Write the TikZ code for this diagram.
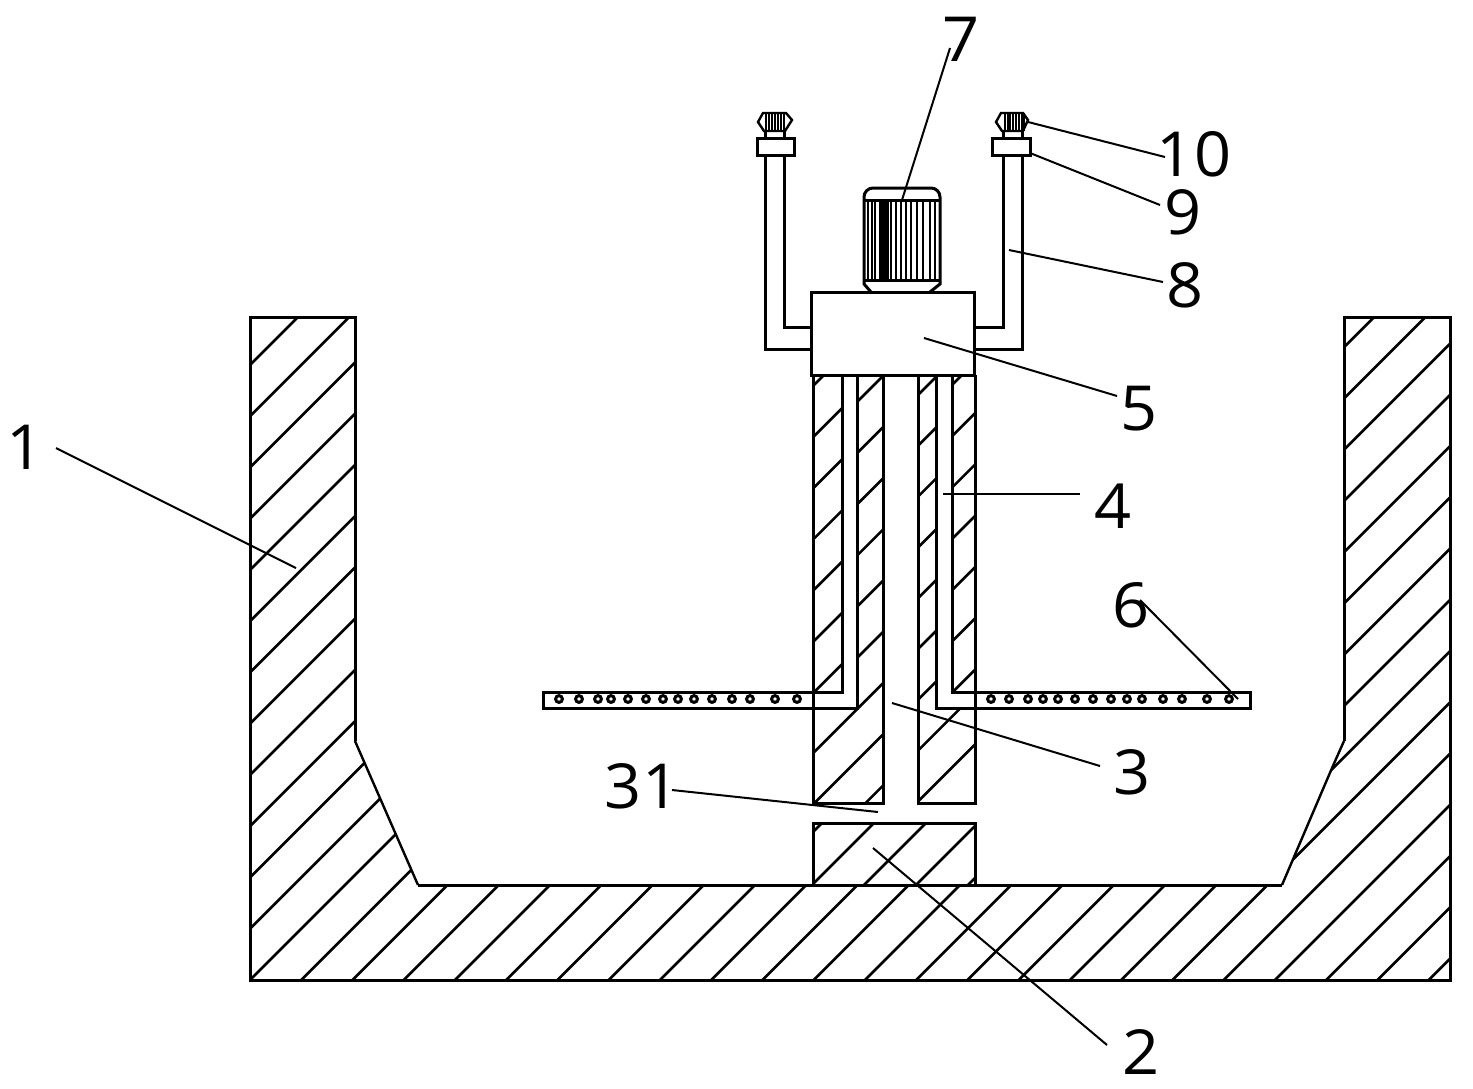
\documentclass[tikz,border=0pt]{standalone}
\usepackage{fontspec}
\setsansfont{Open Sans}
\tikzset{
  outline/.style={line width=1.5pt,line join=miter},
  thinline/.style={line width=1.2pt},
  hatchline/.style={line width=1.3pt},
  leader/.style={line width=1pt},
  finline/.style={line width=1.4pt},
  holemark/.style={circle,draw,line width=1.5pt,minimum size=3.4pt,inner sep=0pt},
  lab/.style={inner sep=0pt,font=\sffamily\fontsize{27}{27}\selectfont,yscale=1.15,xscale=1.2,text=black}
}
\newcommand{\hatchin}[5]{% path, c0, period, k-from, k-to
  \begin{scope}
    \clip #1;
    \foreach \k in {#4,...,#5}{
      \pgfmathsetmacro{\cc}{#2+#3*\k}
      \draw[hatchline] (0,\cc) -- (\cc,0);
    }
  \end{scope}
}
\begin{document}
\begin{tikzpicture}[x=0.5pt,y=-0.5pt]
\useasboundingbox (0,0) rectangle (1473,1088);
\fill[white] (0,0) rectangle (1473,1088);
% hatches
\hatchin{(250,317)--(355,317)--(355,741)--(418,885)--(1282,885)--(1344,741)--(1344,317)--(1450,317)--(1450,980)--(250,980)--cycle}{1230}{51.25}{-12}{23}
\hatchin{(813,823) rectangle (975,885)}{1697}{52}{-1}{3}
\hatchin{(813,375) rectangle (842,692)}{1199}{51.2}{0}{6}
\hatchin{(857,375)--(883,375)--(883,803)--(813,803)--(813,708)--(857,708)--cycle}{1259}{51.2}{0}{8}
\hatchin{(918,375)--(936,375)--(936,708)--(975,708)--(975,803)--(918,803)--cycle}{1313}{50.8}{0}{8}
\hatchin{(952,375) rectangle (975,692)}{1337}{51.3}{0}{6}
% vessel
\draw[outline] (355,741)--(355,317)--(250,317)--(250,980)--(1450,980)--(1450,317)--(1344,317)--(1344,741);
\draw[thinline] (355,741)--(418,885);
\draw[outline] (418,885)--(1282,885);
\draw[thinline] (1282,885)--(1332,768)--(1344,741);
% block 2
\draw[outline] (813,885)--(813,823)--(975,823)--(975,885);
% tubes
\draw[outline] (813,375)--(813,803)--(883,803)--(883,375);
\draw[outline] (918,375)--(918,803)--(975,803)--(975,375);
% horizontal pipes
\draw[outline] (857,375)--(857,708)--(543,708)--(543,692)--(842,692)--(842,375);
\draw[outline] (936,375)--(936,708)--(1250,708)--(1250,692)--(952,692)--(952,375);
% holes
\foreach \x in {559,579,598,611,628,646,663,678,694,712,732,750,775,797,991,1009,1028,1043,1058,1075,1093,1111,1127,1142,1163,1182,1207,1229}
  \node[holemark] at (\x,699) {};
% head box
\draw[outline] (811,292) rectangle (974,375);
% motor
\draw[outline] (864,200)--(864,197) arc[start angle=180,end angle=270,radius=9]--(931,188) arc[start angle=270,end angle=360,radius=9]--(940,200);
\draw[outline] (864,200)--(940,200);
\draw[outline] (864,280)--(940,280);
\draw[outline] (864,200)--(864,284)--(871,292);
\draw[outline] (940,200)--(940,284)--(930,292);
\foreach \x in {868,872,875,880,882,884,886,888,891,896,901,906,911,917,923,930,935}
  \draw[finline] (\x,200)--(\x,280);
% side pipes
\draw[outline] (811,349)--(765,349)--(765,155);
\draw[outline] (811,327)--(784,327)--(784,155);
\draw[outline] (974,349)--(1022,349)--(1022,155);
\draw[outline] (974,327)--(1003,327)--(1003,155);
\draw[outline] (757,138) rectangle (794,155);
\draw[outline] (992,138) rectangle (1030,155);
% nozzles
\draw[outline] (765,138)--(765,132) (784,138)--(784,132);
\draw[outline] (1003,138)--(1003,132) (1022,138)--(1022,132);
\draw[thinline] (758,122)--(763,113)--(786,113)--(792,120)--(785,131)--(764,131)--cycle;
\draw[thinline] (996,122)--(1001,113)--(1023,113)--(1028,120)--(1023,131)--(1002,131)--cycle;
\foreach \x in {766,769,772,775,778,781,784}
  \draw[finline] (\x,113)--(\x,131);
\foreach \x in {1005,1008,1010,1013,1016,1019,1022,1024}
  \draw[finline] (\x,113)--(\x,131);
% labels
\node[lab] (n1) at (25,447) {1};
\node[lab] (n7) at (961,39) {7};
\node[lab] (n10) at (1194,154) {10};
\node[lab] (n9) at (1183,212) {9};
\node[lab] (n8) at (1185,285) {8};
\node[lab] (n5) at (1139,409) {5};
\node[lab] (n4) at (1113,506) {4};
\node[lab] (n6) at (1131,605) {6};
\node[lab] (n3) at (1132,772) {3};
\node[lab] (n31) at (642,786) {31};
\node[lab] (n2) at (1141,1052) {2};
% leader ends
\coordinate (a1) at (56,448);   \coordinate (b1) at (296,568);
\coordinate (a7) at (950,48);   \coordinate (b7) at (902,200);
\coordinate (a10) at (1165,157);\coordinate (b10) at (1028,122);
\coordinate (a9) at (1160,205); \coordinate (b9) at (1030,153);
\coordinate (a8) at (1163,282); \coordinate (b8) at (1009,250);
\coordinate (a5) at (1117,396); \coordinate (b5) at (924,338);
\coordinate (a4) at (1080,494); \coordinate (b4) at (943,494);
\coordinate (a6) at (1140,600); \coordinate (b6) at (1238,699);
\coordinate (a3) at (1100,766); \coordinate (b3) at (892,703);
\coordinate (a31) at (672,790); \coordinate (b31) at (878,812);
\coordinate (a2) at (1107,1045);\coordinate (b2) at (873,848);
\foreach \i in {1,7,10,9,8,5,4,6,3,31,2}
  \draw[leader] (a\i)--(b\i);
\end{tikzpicture}
\end{document}
